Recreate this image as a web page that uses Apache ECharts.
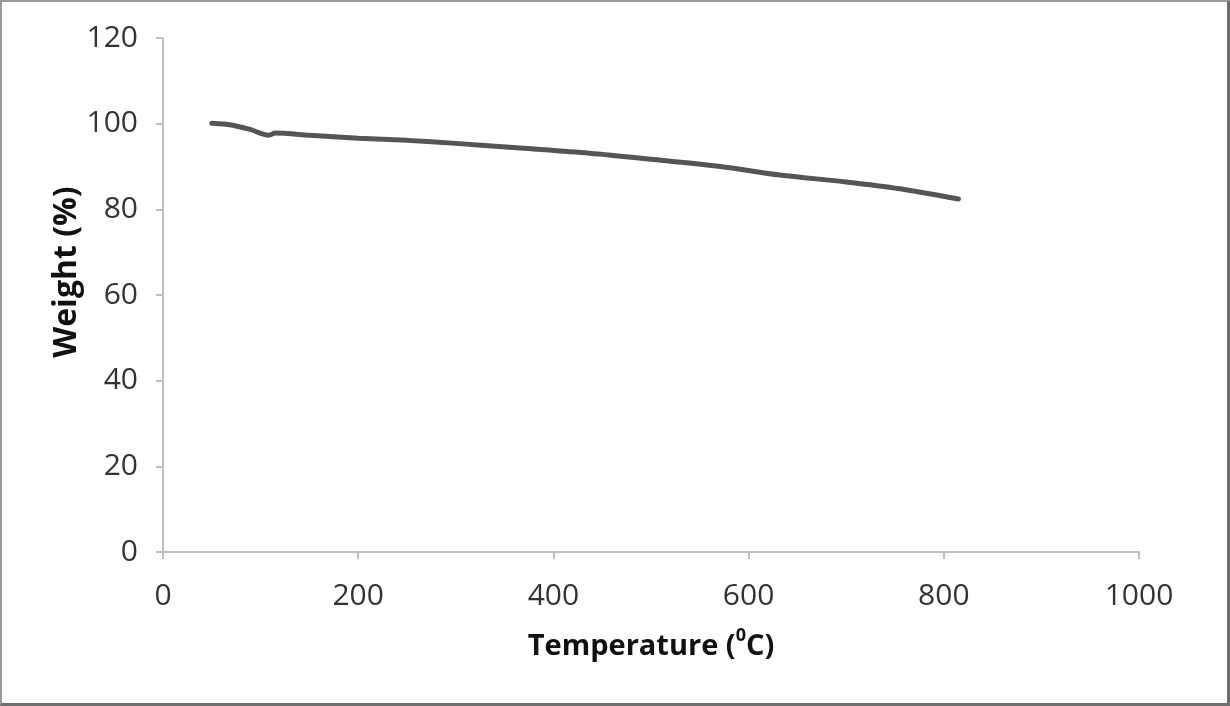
<!DOCTYPE html>
<html>
<head>
<meta charset="utf-8">
<script src="https://cdn.jsdelivr.net/npm/echarts@6/dist/echarts.min.js"></script>
<style>
html,body{margin:0;padding:0;background:#fff;}
#frame{position:absolute;left:0;top:0;width:1230px;height:706px;box-sizing:border-box;
 border-left:2px solid #9a9a9a;border-top:2px solid #9a9a9a;border-right:3px solid #6e6e6e;border-bottom:3px solid #6e6e6e;}
#chart{position:absolute;left:0;top:0;width:1230px;height:706px;}
</style>
</head>
<body>
<div id="chart"></div>
<div id="frame"></div>
<script>
const temperature = [50, 70, 90, 108, 115, 150, 200, 250, 300, 366, 437, 500, 571, 632, 700, 755, 815];
const weight = [100.1, 99.7, 98.6, 97.3, 97.8, 97.3, 96.6, 96.1, 95.4, 94.3, 93.1, 91.7, 90.0, 88.0, 86.4, 84.8, 82.4];
const xTitle = 'Temperature (';
const yTitle = 'Weight (%)';

const chart = echarts.init(document.getElementById('chart'));
chart.setOption({
  animation: false,
  grid: {left: 163, right: 91, top: 38, bottom: 154, containLabel: false},
  xAxis: {
    type: 'value', min: 0, max: 1000, interval: 200,
    name: '{t|' + xTitle + '}{s|0}{t|C)}',
    nameLocation: 'middle', nameGap: 75,
    nameTextStyle: {rich: {
      t: {fontFamily: 'Open Sans', fontWeight: 'bold', fontSize: 29, color: '#111', lineHeight: 34, verticalAlign: 'bottom'},
      s: {fontFamily: 'Open Sans', fontWeight: 'bold', fontSize: 18, color: '#111', lineHeight: 34, verticalAlign: 'top', padding:[0,0,12,0]}
    }},
    axisLine: {show: true, lineStyle: {color: '#bfbfbf', width: 2}},
    axisTick: {show: true, inside: false, length: 7, lineStyle: {color: '#bfbfbf', width: 2}},
    axisLabel: {margin: 29, fontFamily: 'Open Sans', fontSize: 30, color: '#333', formatter: v => String(v)},
    splitLine: {show: false}
  },
  yAxis: {
    type: 'value', min: 0, max: 120, interval: 20,
    name: yTitle, nameLocation: 'middle', nameGap: 80, nameMoveOverlap: false,
    nameTextStyle: {fontFamily: 'Open Sans', fontWeight: 'bold', fontSize: 32, color: '#111', padding: [0, 0, 0, 46]},
    axisLine: {show: true, lineStyle: {color: '#bfbfbf', width: 2}},
    axisTick: {show: true, inside: false, length: 7, lineStyle: {color: '#bfbfbf', width: 2}},
    axisLabel: {margin: 25, fontFamily: 'Open Sans', fontSize: 30, color: '#333'},
    splitLine: {show: false}
  },
  series: [{
    type: 'line',
    data: temperature.map((t, i) => [t, weight[i]]),
    showSymbol: false, symbol: 'none',
    smooth: 0.3,
    lineStyle: {color: '#555', width: 5, cap: 'round'}
  }]
});
</script>
</body>
</html>
